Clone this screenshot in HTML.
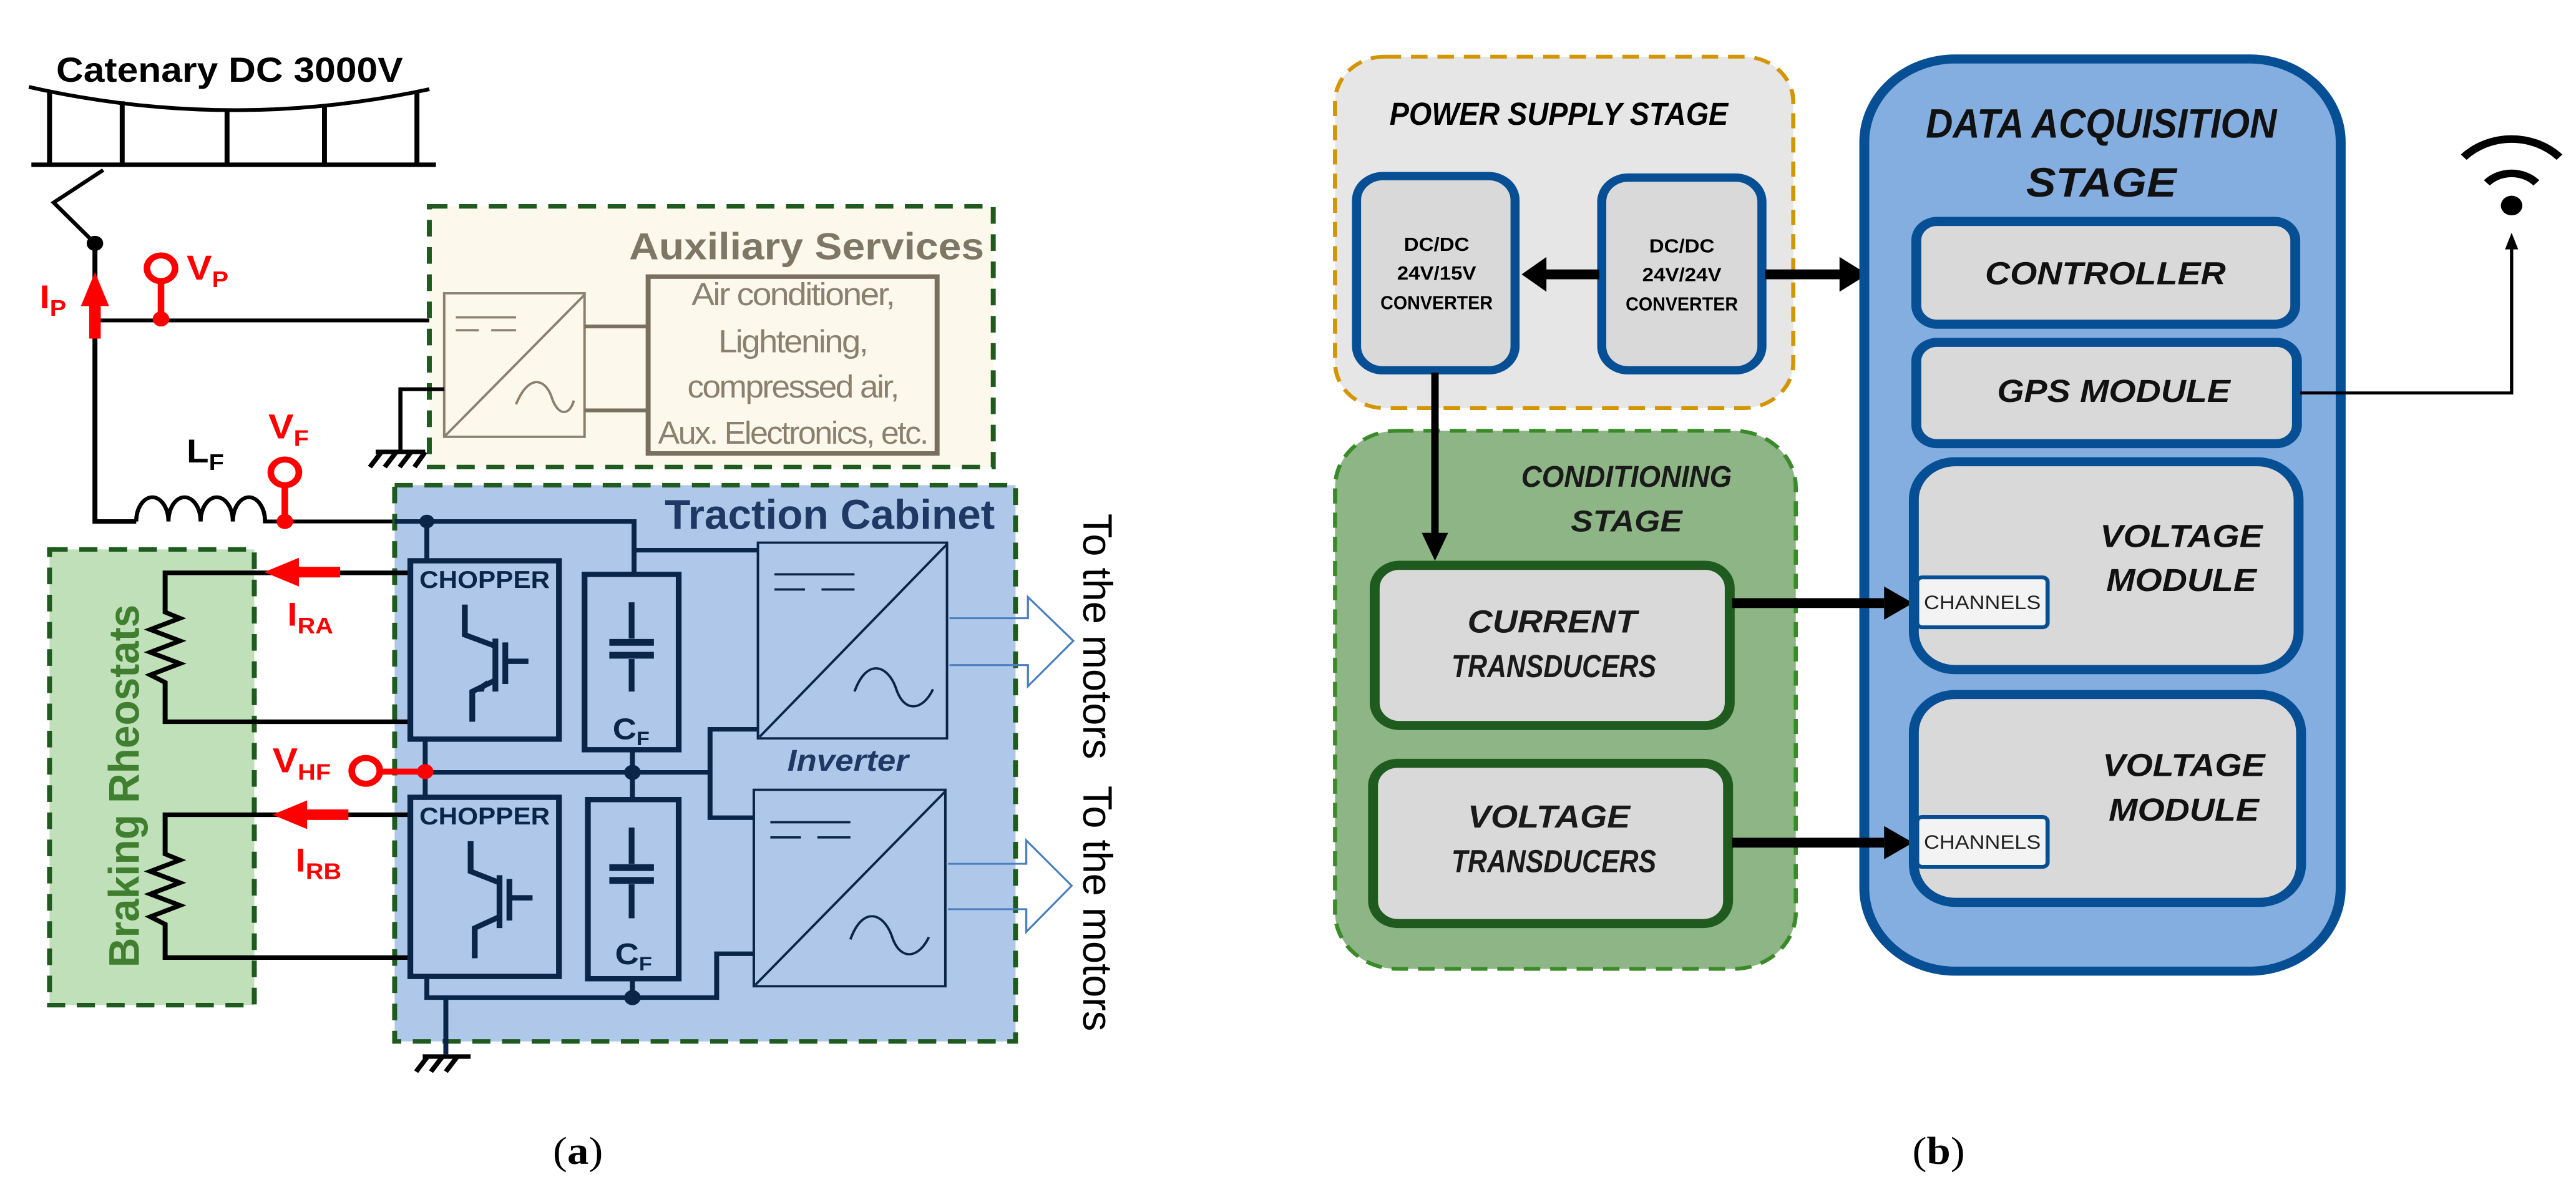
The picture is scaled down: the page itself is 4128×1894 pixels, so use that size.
<!DOCTYPE html>
<html><head><meta charset="utf-8"><style>
html,body{margin:0;padding:0;background:#fff;width:4128px;height:1894px;overflow:hidden;position:relative}
svg{position:absolute;top:0}
text{font-family:"Liberation Sans",sans-serif}
</style></head><body>
<svg style="left:0" width="2064" height="1894" viewBox="0 0 1560 1564" preserveAspectRatio="none">
<!-- catenary -->
<text x="278" y="108" font-size="46" font-weight="bold" text-anchor="middle" textLength="420" lengthAdjust="spacingAndGlyphs">Catenary DC 3000V</text>
<path d="M35,115 Q278,175 520,118" stroke="#000" stroke-width="5" fill="none"/>
<line x1="38" y1="218" x2="528" y2="218" stroke="#000" stroke-width="6"/>
<g stroke="#000" stroke-width="6">
<line x1="60" y1="121" x2="60" y2="218"/><line x1="148" y1="134" x2="148" y2="218"/><line x1="275" y1="145" x2="275" y2="218"/><line x1="393" y1="139" x2="393" y2="218"/><line x1="505" y1="122" x2="505" y2="218"/>
</g>
<polyline points="125,225 65,268 115,322" stroke="#000" stroke-width="5" fill="none"/>
<circle cx="115" cy="322" r="10" fill="#000"/>
<path d="M115,322 V690 H165" stroke="#000" stroke-width="6" fill="none"/>
<path d="M165,690 a19.5,32 0 0 1 39,0 a19.5,32 0 0 1 39,0 a19.5,32 0 0 1 39,0 a19.5,32 0 0 1 39,0 H480" stroke="#000" stroke-width="5" fill="none"/>
<line x1="115" y1="424" x2="530" y2="424" stroke="#000" stroke-width="5"/>
<!-- I_P -->
<rect x="108" y="395" width="14" height="53" fill="#f00"/>
<polygon points="98,405 132,405 115,360" fill="#f00"/>
<text x="48" y="408" font-size="44" font-weight="bold" fill="#f00">I<tspan font-size="30" dy="10">P</tspan></text>
<!-- V_P -->
<circle cx="195" cy="355" r="17" stroke="#f00" stroke-width="8" fill="none"/>
<line x1="195" y1="372" x2="195" y2="422" stroke="#f00" stroke-width="8"/>
<circle cx="195" cy="422" r="10" fill="#f00"/>
<text x="226" y="370" font-size="46" font-weight="bold" fill="#f00">V<tspan font-size="30" dy="10">P</tspan></text>
<!-- Aux -->
<rect x="520" y="273" width="683" height="345" fill="#fdf8ec" stroke="#1f5a1f" stroke-width="6" stroke-dasharray="22,14"/>
<text x="1192" y="343" font-size="50" font-weight="bold" fill="#7f7766" text-anchor="end" textLength="430" lengthAdjust="spacingAndGlyphs">Auxiliary Services</text>
<rect x="538" y="388" width="170" height="190" stroke="#8a8070" stroke-width="3" fill="none"/>
<line x1="538" y1="578" x2="708" y2="390" stroke="#8a8070" stroke-width="3"/>
<g stroke="#8a8070" stroke-width="3"><line x1="552" y1="420" x2="625" y2="420"/><line x1="552" y1="437" x2="580" y2="437"/><line x1="595" y1="437" x2="625" y2="437"/></g>
<path d="M625,535 C640,495 660,500 668,525 C676,552 690,550 695,530" stroke="#8a8070" stroke-width="3" fill="none"/>
<g stroke="#7a7060" stroke-width="5"><line x1="708" y1="432" x2="785" y2="432"/><line x1="708" y1="543" x2="785" y2="543"/></g>
<rect x="785" y="366" width="350" height="234" stroke="#7a7060" stroke-width="6" fill="none"/>
<g font-size="42" fill="#8a8070" text-anchor="middle" letter-spacing="-2">
<text x="960" y="404" textLength="245" lengthAdjust="spacingAndGlyphs">Air conditioner,</text>
<text x="960" y="466" textLength="180" lengthAdjust="spacingAndGlyphs">Lightening,</text>
<text x="960" y="526" textLength="255" lengthAdjust="spacingAndGlyphs">compressed air,</text>
<text x="960" y="587" textLength="326" lengthAdjust="spacingAndGlyphs">Aux. Electronics, etc.</text>
</g>
<path d="M538,515 H485 V595" stroke="#000" stroke-width="5" fill="none"/>
<path d="M455,598 H515 M462,598 L448,618 M480,598 L466,618 M498,598 L484,618 M515,598 L502,618" stroke="#000" stroke-width="6" fill="none"/>
<!-- LF VF -->
<text x="226" y="612" font-size="44" font-weight="bold">L<tspan font-size="30" dy="10">F</tspan></text>
<text x="325" y="580" font-size="46" font-weight="bold" fill="#f00">V<tspan font-size="30" dy="10">F</tspan></text>
<!-- Braking -->
<rect x="60" y="727" width="248" height="603" fill="#bfe0b8" stroke="#1f5a1f" stroke-width="6" stroke-dasharray="22,14"/>
<text transform="translate(168,1040) rotate(-90)" font-size="52" font-weight="bold" fill="#3f7f2f" text-anchor="middle" textLength="480" lengthAdjust="spacingAndGlyphs">Braking Rheostats</text>
<!-- Traction -->
<rect x="478" y="642" width="752" height="736" fill="#afc7e8" stroke="#1f5a1f" stroke-width="6" stroke-dasharray="22,14"/>
<text x="1205" y="700" font-size="55" font-weight="bold" fill="#1f3864" text-anchor="end" textLength="400" lengthAdjust="spacingAndGlyphs">Traction Cabinet</text>
<!-- V_F circle -->
<circle cx="345" cy="625" r="17" stroke="#f00" stroke-width="8" fill="none"/>
<line x1="345" y1="642" x2="345" y2="690" stroke="#f00" stroke-width="8"/>
<circle cx="345" cy="690" r="10" fill="#f00"/>
<!-- rheostat wires -->
<path d="M497,758 H200 V810 L218,818 L182,833 L218,848 L182,863 L218,878 L182,893 L200,903 V955 H497" stroke="#000" stroke-width="6" fill="none"/>
<path d="M497,1078 H200 V1130 L218,1138 L182,1153 L218,1168 L182,1183 L218,1198 L182,1213 L200,1223 V1267 H497" stroke="#000" stroke-width="6" fill="none"/>
<line x1="412" y1="757" x2="350" y2="757" stroke="#f00" stroke-width="14"/>
<polygon points="320,757 362,738 362,776" fill="#f00"/>
<text x="348" y="828" font-size="44" font-weight="bold" fill="#f00">I<tspan font-size="30" dy="10">RA</tspan></text>
<line x1="422" y1="1078" x2="360" y2="1078" stroke="#f00" stroke-width="14"/>
<polygon points="330,1078 372,1059 372,1097" fill="#f00"/>
<text x="358" y="1153" font-size="44" font-weight="bold" fill="#f00">I<tspan font-size="30" dy="10">RB</tspan></text>
<!-- navy wiring -->
<g stroke="#0b2548" stroke-width="6" fill="none">
<path d="M478,690 H768 V760"/>
<path d="M768,728 H918"/>
<path d="M517,690 V742"/>
<path d="M515,978 V1055"/>
<path d="M515,1022 H860 V965 H918 M860,1022 V1082 H913"/>
<path d="M766,992 V1058"/>
<path d="M517,1292 V1320 H868 V1262 H913"/>
<path d="M766,1295 V1320"/>
<path d="M540,1320 V1395"/>
</g>
<circle cx="517" cy="690" r="9" fill="#0b2548"/>
<circle cx="766" cy="1022" r="10" fill="#0b2548"/>
<circle cx="766" cy="1320" r="10" fill="#0b2548"/>
<path d="M512,1398 H570 M518,1398 L504,1418 M536,1398 L522,1418 M554,1398 L540,1418" stroke="#000" stroke-width="6" fill="none"/>
<!-- V_HF -->
<circle cx="443" cy="1020" r="17" stroke="#f00" stroke-width="8" fill="none"/>
<line x1="460" y1="1021" x2="515" y2="1021" stroke="#f00" stroke-width="8"/>
<circle cx="515" cy="1021" r="10" fill="#f00"/>
<text x="330" y="1022" font-size="46" font-weight="bold" fill="#f00">V<tspan font-size="30" dy="10">HF</tspan></text>
<!-- choppers -->
<g stroke="#0b2548" stroke-width="7" fill="none">
<rect x="497" y="742" width="180" height="236"/>
<rect x="497" y="1055" width="180" height="237"/>
<rect x="708" y="760" width="114" height="232"/>
<rect x="712" y="1058" width="110" height="237"/>
</g>
<g font-size="32" font-weight="bold" fill="#0b2548" text-anchor="middle">
<text x="587" y="778" textLength="158" lengthAdjust="spacingAndGlyphs">CHOPPER</text>
<text x="587" y="1091" textLength="158" lengthAdjust="spacingAndGlyphs">CHOPPER</text>
</g>
<g id="igbt" stroke="#0b2548" stroke-width="7" fill="none">
<path d="M563,800 V840 L600,855"/>
<path d="M600,845 V915"/>
<path d="M612,850 V905 M612,875 H640"/>
<path d="M600,900 L572,915 V955"/>
</g>
<polygon points="568,916 590,900 586,915" fill="#0b2548"/>
<g transform="translate(0,313)" stroke="#0b2548" stroke-width="7" fill="none">
<path d="M570,800 V840 L605,855"/>
<path d="M605,845 V915"/>
<path d="M617,850 V905 M617,875 H645"/>
<path d="M605,900 L575,915 V955"/>
</g>
<g stroke="#0b2548" fill="none">
<path d="M765,797 V845 M765,872 V915" stroke-width="7"/>
<path d="M738,850 H792 M738,867 H792" stroke-width="9"/>
<path d="M765,1095 V1143 M765,1170 V1215" stroke-width="7"/>
<path d="M738,1148 H792 M738,1165 H792" stroke-width="9"/>
</g>
<text x="742" y="978" font-size="40" fill="#0b2548" font-weight="bold">C<tspan font-size="26" dy="8">F</tspan></text>
<text x="745" y="1276" font-size="40" fill="#0b2548" font-weight="bold">C<tspan font-size="26" dy="8">F</tspan></text>
<!-- inverters -->
<g stroke="#0b2548" stroke-width="3" fill="none">
<rect x="918" y="718" width="229" height="259"/>
<line x1="920" y1="975" x2="1147" y2="720"/>
<line x1="938" y1="760" x2="1035" y2="760"/><line x1="938" y1="780" x2="975" y2="780"/><line x1="995" y1="780" x2="1035" y2="780"/>
<path d="M1035,915 C1050,870 1075,880 1085,910 C1095,945 1118,940 1130,912"/>
<rect x="913" y="1045" width="232" height="260"/>
<line x1="915" y1="1303" x2="1145" y2="1047"/>
<line x1="933" y1="1088" x2="1030" y2="1088"/><line x1="933" y1="1108" x2="970" y2="1108"/><line x1="990" y1="1108" x2="1030" y2="1108"/>
<path d="M1030,1243 C1045,1198 1070,1208 1080,1238 C1090,1273 1113,1268 1125,1240"/>
</g>
<text x="1027" y="1020" font-size="40" font-style="italic" font-weight="bold" fill="#1f3864" text-anchor="middle">Inverter</text>
<g stroke="#4a7fc0" stroke-width="2.5" fill="none">
<path d="M1150,818 H1245 V790 L1300,848 L1245,908 V880 H1150"/>
<path d="M1148,1143 H1243 V1112 L1298,1172 L1243,1233 V1203 H1148"/>
</g>
<text transform="translate(1312,842) rotate(90)" font-size="50" text-anchor="middle" textLength="325" lengthAdjust="spacingAndGlyphs">To the motors</text>
<text transform="translate(1312,1202) rotate(90)" font-size="50" text-anchor="middle" textLength="325" lengthAdjust="spacingAndGlyphs">To the motors</text>
<text x="700" y="1540" font-size="52" text-anchor="middle" style="font-family:'Liberation Serif',serif">(<tspan font-weight="bold">a</tspan>)</text>
</svg>

<svg style="left:2064px" width="2064" height="1894" viewBox="0 0 1560 1564" preserveAspectRatio="none">
<rect x="57" y="75" width="555" height="465" rx="60" fill="#e6e6e6" stroke="#d39500" stroke-width="5" stroke-dasharray="20,12"/>
<text x="328" y="165" font-size="42" font-style="italic" font-weight="bold" text-anchor="middle" textLength="410" lengthAdjust="spacingAndGlyphs">POWER SUPPLY STAGE</text>
<g fill="#d9d9d9" stroke="#064f94" stroke-width="11">
<rect x="83" y="233" width="192" height="257" rx="32"/>
<rect x="380" y="235" width="194" height="255" rx="32"/>
</g>
<g font-size="25" font-weight="bold" text-anchor="middle">
<text x="180" y="332">DC/DC</text><text x="180" y="370">24V/15V</text><text x="180" y="409" textLength="136" lengthAdjust="spacingAndGlyphs">CONVERTER</text>
<text x="477" y="334">DC/DC</text><text x="477" y="372">24V/24V</text><text x="477" y="411" textLength="136" lengthAdjust="spacingAndGlyphs">CONVERTER</text>
</g>
<line x1="377" y1="363" x2="310" y2="363" stroke="#000" stroke-width="13"/>
<polygon points="283,363 313,340 313,386" fill="#000"/>
<line x1="578" y1="363" x2="670" y2="363" stroke="#000" stroke-width="13"/>
<polygon points="702,363 668,340 668,386" fill="#000"/>
<rect x="57" y="570" width="558" height="712" rx="75" fill="#8db585" stroke="#3a8a2a" stroke-width="5" stroke-dasharray="20,12"/>
<line x1="178" y1="493" x2="178" y2="710" stroke="#000" stroke-width="9"/>
<polygon points="178,742 162,705 194,705" fill="#000"/>
<g font-size="40" font-style="italic" font-weight="bold" text-anchor="middle" fill="#1a1a1a">
<text x="410" y="644" textLength="255" lengthAdjust="spacingAndGlyphs">CONDITIONING</text>
<text x="410" y="703">STAGE</text>
</g>
<g fill="#d9d9d9" stroke="#1f5a1f" stroke-width="12">
<rect x="105" y="748" width="430" height="212" rx="30"/>
<rect x="103" y="1010" width="430" height="212" rx="30"/>
</g>
<g font-size="42" font-style="italic" font-weight="bold" text-anchor="middle" fill="#1a1a1a">
<text x="320" y="837">CURRENT</text><text x="322" y="896" textLength="248" lengthAdjust="spacingAndGlyphs">TRANSDUCERS</text>
<text x="316" y="1095">VOLTAGE</text><text x="322" y="1154" textLength="248" lengthAdjust="spacingAndGlyphs">TRANSDUCERS</text>
</g>
<rect x="698" y="78" width="577" height="1207" rx="110" fill="#84aedf" stroke="#064f94" stroke-width="12"/>
<line x1="538" y1="798" x2="722" y2="798" stroke="#000" stroke-width="13"/>
<polygon points="757,798 722,776 722,820" fill="#000"/>
<line x1="538" y1="1115" x2="722" y2="1115" stroke="#000" stroke-width="13"/>
<polygon points="757,1115 722,1093 722,1137" fill="#000"/>
<g font-size="54" font-style="italic" font-weight="bold" text-anchor="middle" fill="#111">
<text x="985" y="182" textLength="425" lengthAdjust="spacingAndGlyphs">DATA ACQUISITION</text>
<text x="985" y="260">STAGE</text>
</g>
<g fill="#d9d9d9" stroke="#064f94" stroke-width="12">
<rect x="761" y="293" width="459" height="136" rx="25"/>
<rect x="761" y="453" width="461" height="134" rx="25"/>
<rect x="758" y="611" width="466" height="275" rx="50"/>
<rect x="758" y="919" width="469" height="275" rx="50"/>
</g>
<g font-size="42" font-style="italic" font-weight="bold" text-anchor="middle" fill="#111">
<text x="990" y="376">CONTROLLER</text>
<text x="1000" y="532">GPS MODULE</text>
<text x="1082" y="724">VOLTAGE</text><text x="1082" y="782">MODULE</text>
<text x="1085" y="1027">VOLTAGE</text><text x="1085" y="1086">MODULE</text>
</g>
<g fill="#f3f3f3" stroke="#064f94" stroke-width="5">
<rect x="762" y="764" width="158" height="66" rx="6"/>
<rect x="762" y="1081" width="158" height="66" rx="6"/>
</g>
<g font-size="26" text-anchor="middle" fill="#222">
<text x="841" y="806">CHANNELS</text><text x="841" y="1123">CHANNELS</text>
</g>
<path d="M1226,520 H1482 V330" stroke="#000" stroke-width="4" fill="none"/>
<polygon points="1482,308 1474,330 1490,330" fill="#000"/>
<circle cx="1482" cy="272" r="13" fill="#000"/>
<path d="M1452,242 A42,42 0 0 1 1512,242" stroke="#000" stroke-width="10" fill="none"/>
<path d="M1424,208 A82,82 0 0 1 1540,208" stroke="#000" stroke-width="10" fill="none"/>
<text x="788" y="1540" font-size="52" text-anchor="middle" style="font-family:'Liberation Serif',serif">(<tspan font-weight="bold">b</tspan>)</text>
</svg>
</body></html>
